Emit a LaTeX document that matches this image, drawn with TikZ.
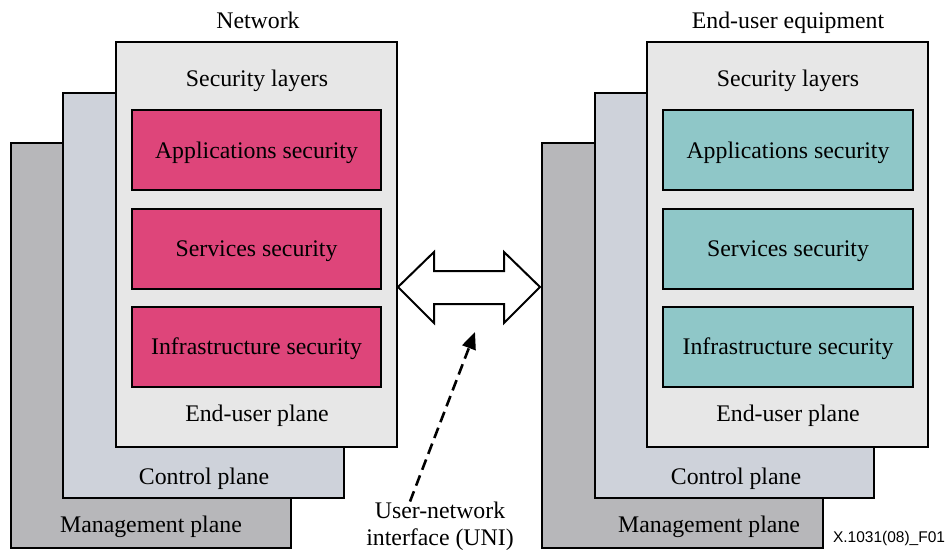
\documentclass[tikz,border=0pt]{standalone}
\usepackage{fontspec}
\setmainfont{Liberation Serif}
\newfontfamily\figsans{Liberation Sans}
\usetikzlibrary{positioning,calc,arrows.meta}
\definecolor{mgmtgray}{RGB}{183,183,186}
\definecolor{ctrlgray}{RGB}{206,210,218}
\definecolor{usergray}{RGB}{231,231,231}
\definecolor{netpink}{RGB}{222,69,122}
\definecolor{equipteal}{RGB}{143,199,200}
\begin{document}
\begin{tikzpicture}[x=1pt, y=-1pt,
        every node/.style={font=\fontsize{23.8}{27}\selectfont, inner sep=0pt, align=center, text height=16pt, text depth=0pt},
        plane/.style={draw, rectangle, line width=2pt, minimum width=281pt, minimum height=405pt},
        secbox/.style={draw, rectangle, line width=2pt, minimum width=249pt, minimum height=80pt},
        unidash/.style={line width=2.6pt, dash pattern=on 11pt off 6pt, -{Triangle[length=17pt, width=14pt]}}]
    \useasboundingbox (0,0) rectangle (949,552);
    \node (netT) at (258,20) {Network};
    \node (equipT) at (788,20) {End-user equipment};
    \node [plane, fill=mgmtgray, minimum width=280pt] (mgmtL) at (151,345.5) {};
    \node [plane, fill=ctrlgray] (ctrlL) at (203.5,295) {};
    \node [plane, fill=usergray] (userL) at (256.5,244.5) {};
    \node [plane, fill=mgmtgray] (mgmtR) at (682.5,345.5) {};
    \node [plane, fill=ctrlgray, minimum width=279pt] (ctrlR) at (734.5,295) {};
    \node [plane, fill=usergray] (userR) at (787.5,244.5) {};
    \node (layersL) at (257,78) {Security layers};
    \node [secbox, fill=netpink] (appL) at (256.5,150) {Applications security};
    \node [secbox, fill=netpink] (svcL) at (256.5,248.5) {Services security};
    \node [secbox, fill=netpink] (infL) at (256.5,346.5) {Infrastructure security};
    \node (userLtxt) at (257,413) {End-user plane};
    \node (ctrlLtxt) at (204,476) {Control plane};
    \node (mgmtLtxt) at (151,524) {Management plane};
    \node (layersR) at (788,78) {Security layers};
    \node [secbox, fill=equipteal, minimum width=250pt] (appR) at (788,150) {Applications security};
    \node [secbox, fill=equipteal, minimum width=250pt] (svcR) at (788,248.5) {Services security};
    \node [secbox, fill=equipteal, minimum width=250pt] (infR) at (788,346.5) {Infrastructure security};
    \node (userRtxt) at (788,413) {End-user plane};
    \node (ctrlRtxt) at (736,476) {Control plane};
    \node (mgmtRtxt) at (709,524) {Management plane};
    \draw [line width=2pt, fill=white, line join=miter] (398,287) -- (434,252) -- (434,271) -- (504,271) -- (504,252) -- (540,287)
        -- (504,323) -- (504,304) -- (434,304) -- (434,323) -- cycle;
    \coordinate (uniTip) at (475,332);
    \node [text height=, text depth=] (uni) at (440,526) {User-network\\interface (UNI)};
    \draw [unidash] ($(uni.north)+(-30,0)$) -- (uniTip);
    \node [font=\figsans\fontsize{15.5}{18}\selectfont, text height=11pt] (figId) at (889,537) {X.1031(08)\_F01};
\end{tikzpicture}
\end{document}
